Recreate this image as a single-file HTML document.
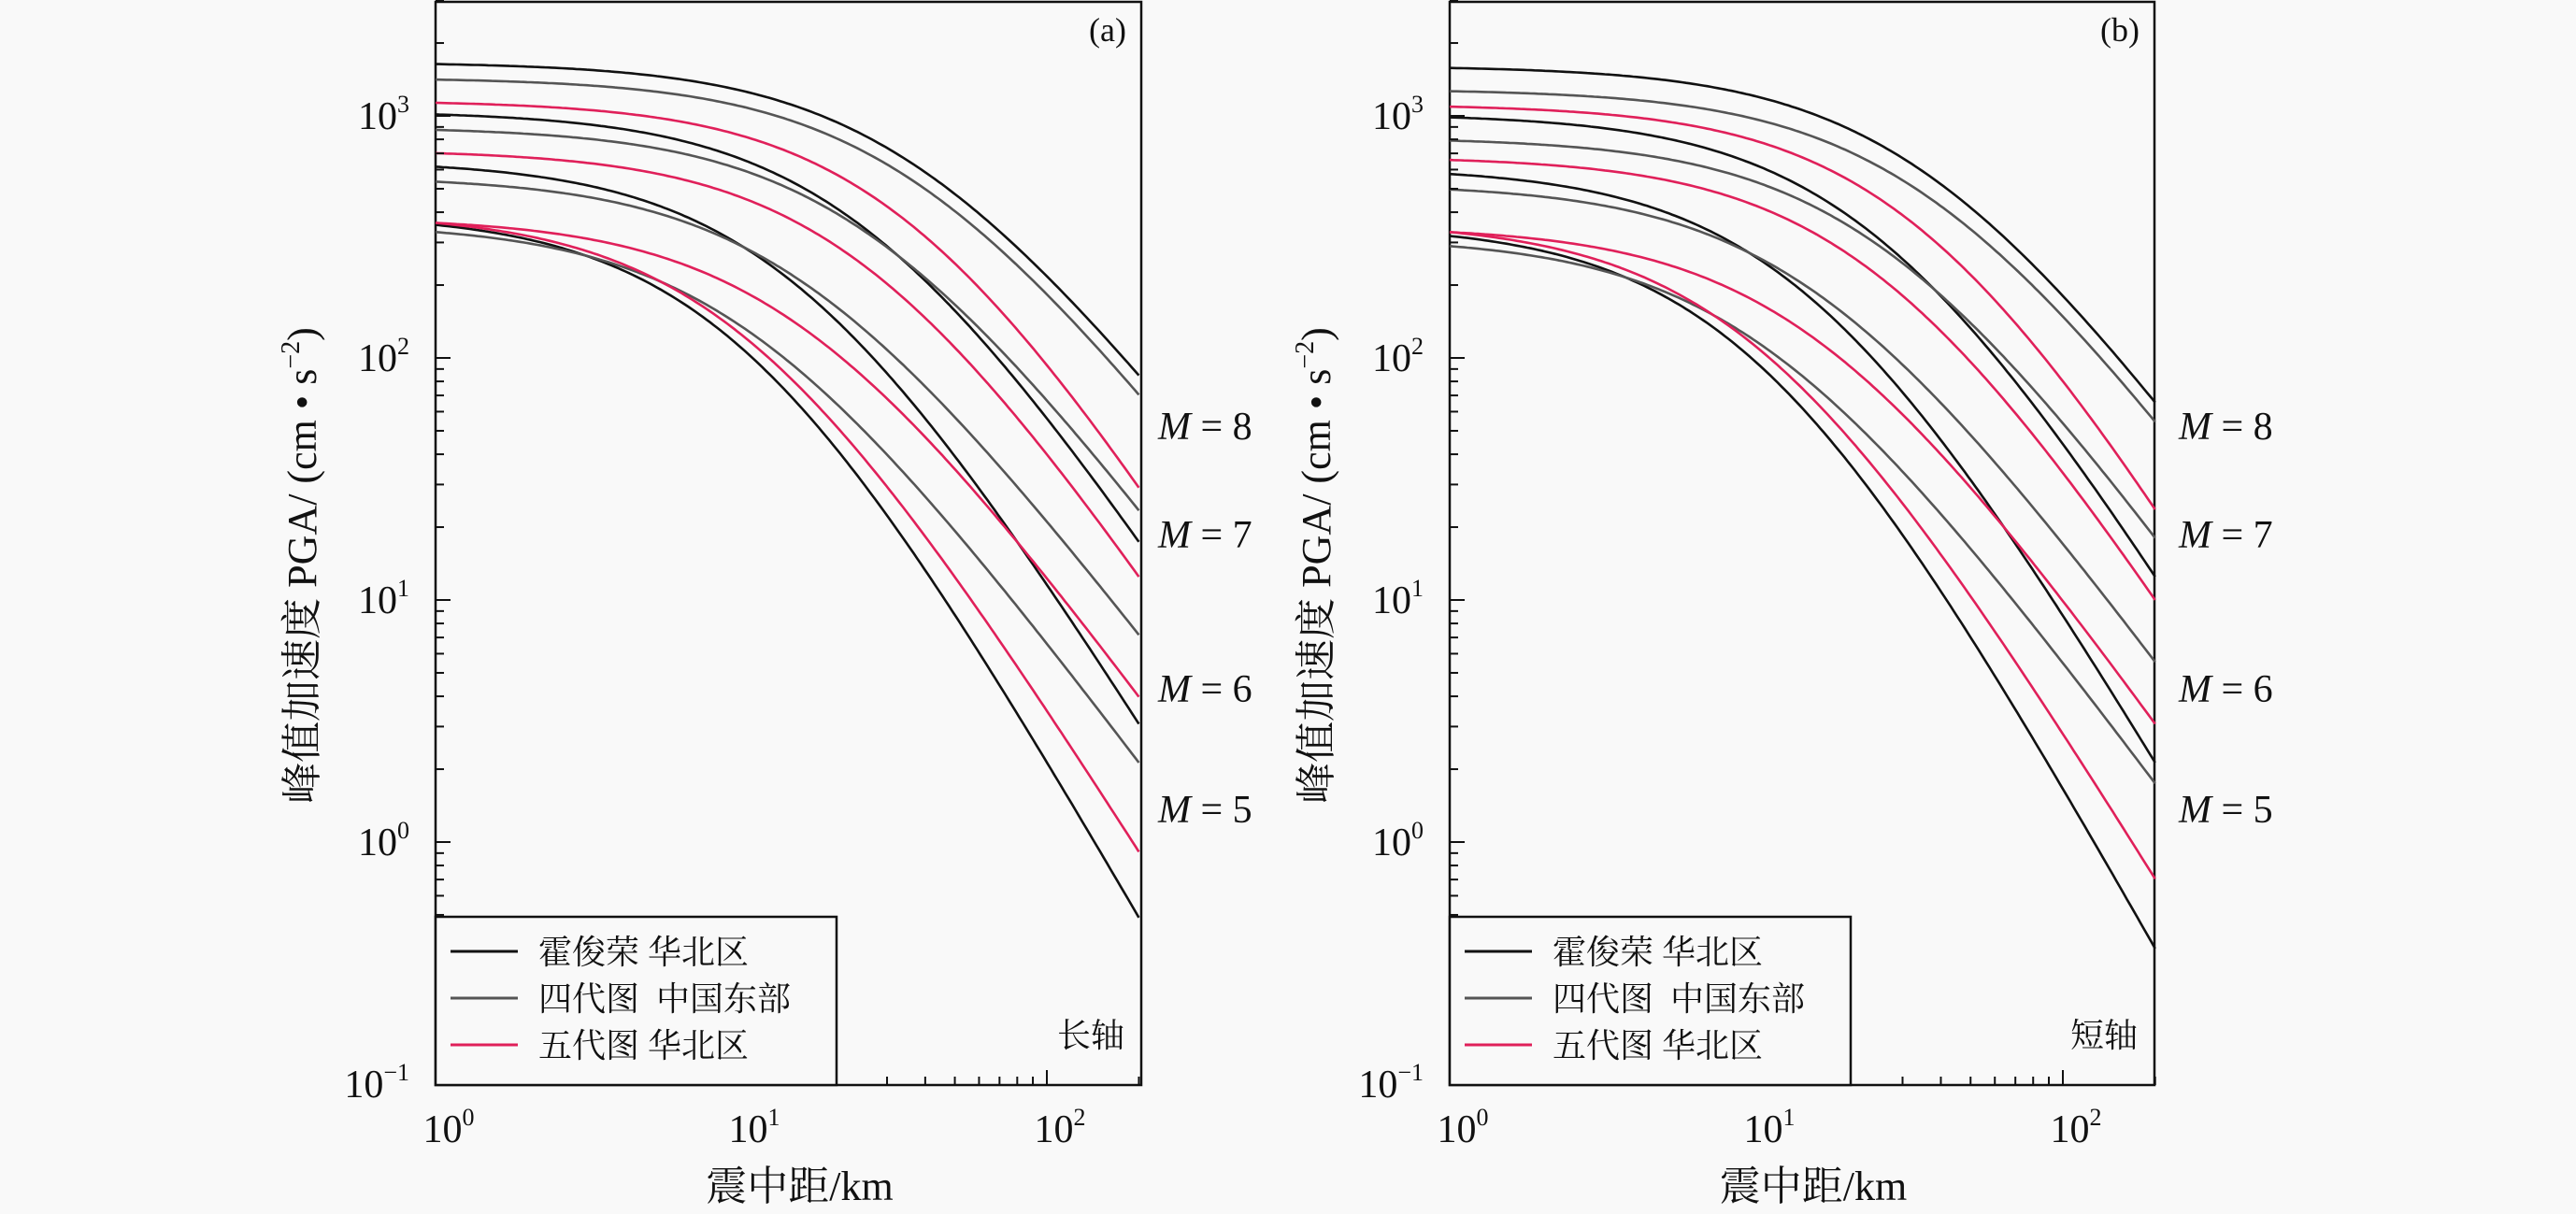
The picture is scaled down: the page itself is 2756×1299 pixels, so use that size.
<!DOCTYPE html>
<html><head><meta charset="utf-8"><style>
html,body{margin:0;padding:0;background:#f9f9f9}
svg{display:block}
text{font-family:"Liberation Serif","Noto Serif CJK SC","Noto Sans CJK SC",serif;fill:#111}
</style></head><body>
<svg id="s" width="2756" height="1299" xmlns="http://www.w3.org/2000/svg"></svg>
<script>
const S=document.getElementById('s');let h='';
function Y(l){return 124+(3-l)*259;}
const P=1.2;
function g(r,R0){return Math.log10(Math.pow(Math.pow(r,P)+Math.pow(R0,P),1/P));}
const panels=[
 {x0:466,x1:1221,dec:327,lab:'(a)',ax:'长轴',lx:1239,
  c:[[3.214,1.928,35,'#111'],[3.15,1.848,35,'#555'],[3.054,1.464,35,'#e0205a'],
     [3.006,1.24,25,'#111'],[2.942,1.37,25,'#555'],[2.846,1.096,25,'#e0205a'],
     [2.79,0.488,15,'#111'],[2.728,0.856,15,'#555'],[2.558,0.6,15,'#e0205a'],
     [2.55,-0.312,10,'#111'],[2.52,0.328,10,'#555'],[2.558,-0.04,10,'#e0205a']]},
 {x0:1551,x1:2305,dec:328,lab:'(b)',ax:'短轴',lx:2331,
  c:[[3.198,1.816,35,'#111'],[3.102,1.736,35,'#555'],[3.038,1.374,35,'#e0205a'],
     [2.994,1.096,25,'#111'],[2.898,1.256,25,'#555'],[2.818,1.0,25,'#e0205a'],
     [2.76,0.328,15,'#111'],[2.696,0.744,15,'#555'],[2.52,0.488,15,'#e0205a'],
     [2.504,-0.44,10,'#111'],[2.462,0.242,10,'#555'],[2.52,-0.152,10,'#e0205a']]}
];
for(const p of panels){
 const X=r=>p.x0+p.dec*Math.log10(r);
 const yb=1161;
 h+=`<rect x="${p.x0}" y="2" width="${p.x1-p.x0}" height="${yb-2}" fill="#f9f9f9" stroke="#111" stroke-width="2.5"/>`;
 for(const c of p.c){
  const [a,e,R0,col]=c;
  const tot=g(200,R0)-g(1,R0);const k=(a-e)/tot;
  let d='';
  for(let i=0;i<=200;i++){const lr=2.30103*i/200;const r=Math.pow(10,lr);
   const v=a-k*(g(r,R0)-g(1,R0));
   d+=(i?'L':'M')+X(r).toFixed(1)+' '+Y(v).toFixed(1);}
  h+=`<path d="${d}" fill="none" stroke="${col}" stroke-width="2.6"/>`;
 }
 for(let dcd=-1;dcd<=3;dcd++){
  for(let m=1;m<=9;m++){const l=dcd+Math.log10(m);if(l>3.479)continue;const y=Y(l);
   h+=`<line x1="${p.x0}" x2="${p.x0+(m==1?16:9)}" y1="${y}" y2="${y}" stroke="#111" stroke-width="2"/>`;}
  const sup=dcd<0?'−1':dcd;
  h+=`<text x="${p.x0-28}" y="${Y(dcd)+14}" font-size="42" text-anchor="end">10<tspan font-size="26" dy="-18">${sup}</tspan></text>`;
 }
 for(let dcd=0;dcd<=2;dcd++){
  for(let m=1;m<=9;m++){const r=m*Math.pow(10,dcd);if(r>200)continue;const x=X(r);
   h+=`<line x1="${x}" x2="${x}" y1="${yb}" y2="${yb-(m==1?16:9)}" stroke="#111" stroke-width="2"/>`;}
  h+=`<text x="${X(Math.pow(10,dcd))+14}" y="${1222}" font-size="42" text-anchor="middle">10<tspan font-size="26" dy="-18">${dcd}</tspan></text>`;
 }
 h+=`<rect x="${p.x0}" y="981" width="429" height="${yb-981}" fill="#f9f9f9" stroke="#111" stroke-width="2.5"/>`;
 const lg=[['霍俊荣 华北区','#111'],['四代图  中国东部','#555'],['五代图 华北区','#e0205a']];
 lg.forEach((q,i)=>{const y=1018+i*50;
  h+=`<line x1="${p.x0+16}" x2="${p.x0+88}" y1="${y}" y2="${y}" stroke="${q[1]}" stroke-width="3"/>`;
  h+=`<text x="${p.x0+110}" y="${y+13}" font-size="36" xml:space="preserve">${q[0]}</text>`;});
 h+=`<text x="${p.x1-18}" y="1120" font-size="36" text-anchor="end">${p.ax}</text>`;
 h+=`<text x="${p.x1-16}" y="44" font-size="36" text-anchor="end">${p.lab}</text>`;
 [['8',456],['7',572],['6',737],['5',866]].forEach(m=>{
  h+=`<text x="${p.lx}" y="${m[1]+14}" font-size="42" xml:space="preserve"><tspan font-style="italic">M</tspan> = ${m[0]}</text>`;});
 h+=`<text x="${(p.x0+p.x1)/2+12}" y="1284" font-size="44" text-anchor="middle">震中距/km</text>`;
 const yc=p.x0-128;
 h+=`<text transform="translate(${yc},605) rotate(-90)" font-size="44" text-anchor="middle">峰值加速度 PGA/ (cm • s<tspan font-size="28" dy="-18">−2</tspan><tspan dy="18">)</tspan></text>`;
}
S.innerHTML=h;
</script>
</body></html>
